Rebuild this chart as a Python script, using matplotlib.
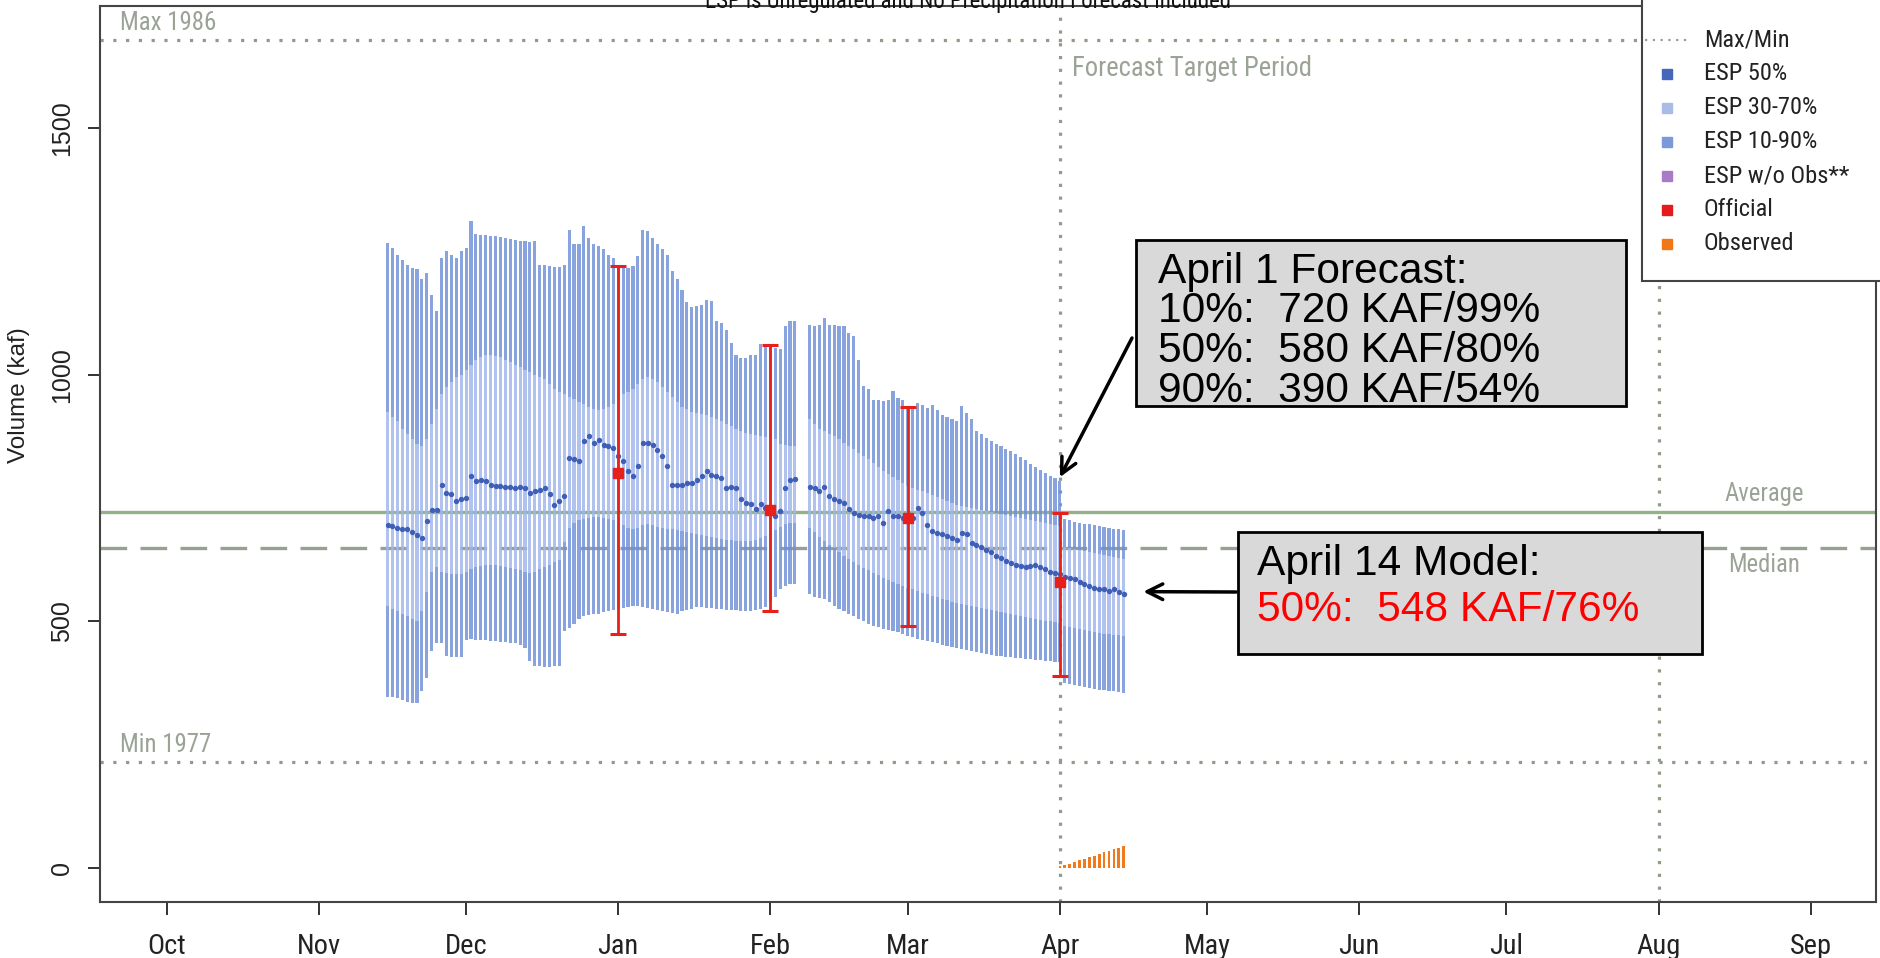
import numpy as np
import pandas as pd
import matplotlib
matplotlib.use('Agg')
import matplotlib.pyplot as plt
from matplotlib import font_manager
from matplotlib.font_manager import FontProperties
from matplotlib.textpath import TextPath
from matplotlib.patches import Rectangle
from matplotlib.lines import Line2D

# ---------------- fonts ----------------
def _find_condensed():
    prefs = ['Liberation Sans Narrow', 'Roboto Condensed', 'DejaVu Sans Condensed',
             'Noto Sans Condensed', 'Open Sans Condensed']
    fl = font_manager.fontManager.ttflist
    for p in prefs:
        for f in fl:
            if f.name == p and f.style == 'normal' and f.weight in (400, 'normal', 'regular', 'book'):
                return f.fname
    for f in fl:
        st = f.stretch
        cond = (isinstance(st, str) and 'condensed' in st and 'ultra' not in st and 'extra' not in st)
        if cond and f.style == 'normal' and f.weight in (400, 'normal', 'regular', 'book'):
            return f.fname
    return None


COND = _find_condensed()


def cond_fp(size):
    if COND:
        return FontProperties(fname=COND, size=size)
    return FontProperties(family='Liberation Sans', size=size)


def arial_fp(size):
    return FontProperties(family='Liberation Sans', size=size)


def fit(text, target_px, maker=cond_fp):
    w = TextPath((0, 0), text, prop=maker(100)).get_extents().width * 100 / 72.0
    return 100.0 * target_px / w


# ---------------- data ----------------
origin = pd.Timestamp('2014-10-01')
month_labels = ['Oct', 'Nov', 'Dec', 'Jan', 'Feb', 'Mar', 'Apr', 'May', 'Jun', 'Jul', 'Aug', 'Sep']
month_starts = pd.date_range('2014-10-01', periods=12, freq='MS')

esp_dates = list(pd.date_range('2014-11-15', '2015-02-06')) + list(pd.date_range('2015-02-09', '2015-04-14'))

# ESP 10% exceedance (upper end of 10-90% range)
esp_hi = [1267, 1257, 1243, 1233, 1223, 1216, 1213, 1193, 1206, 1162,
          1128, 1237, 1250, 1243, 1237, 1250, 1257, 1311, 1284, 1282,
          1282, 1280, 1280, 1278, 1276, 1274, 1272, 1270, 1270, 1268,
          1270, 1223, 1223, 1220, 1218, 1218, 1223, 1294, 1264, 1264,
          1301, 1277, 1264, 1260, 1254, 1243, 1237, 1220, 1216, 1216,
          1220, 1240, 1294, 1291, 1277, 1264, 1254, 1243, 1209, 1193,
          1172, 1147, 1136, 1139, 1142, 1152, 1149, 1108, 1105, 1091,
          1064, 1040, 1034, 1034, 1040, 1040, 1061, 1059, 1058, 1054,
          1051, 1098, 1108, 1108,
          1101, 1098, 1101, 1115, 1101, 1101, 1099, 1098, 1084, 1078,
          1030, 976, 970, 949, 949, 946, 949, 966, 953, 949,
          932, 936, 942, 939, 932, 939, 929, 919, 915, 909,
          905, 936, 922, 909, 885, 880, 872, 866, 860, 855,
          850, 845, 838, 832, 826, 818, 812, 806, 800, 795,
          790, 784, 708, 705, 702, 700, 698, 697, 695, 693,
          692, 690, 688, 686, 684]
# ESP 30% exceedance (upper end of 30-70% range)
esp_q70 = [925, 915, 905, 890, 880, 870, 860, 855, 870, 900,
           930, 960, 975, 985, 995, 1000, 1010, 1020, 1030, 1035,
           1040, 1040, 1038, 1035, 1030, 1025, 1020, 1015, 1010, 1005,
           1000, 995, 990, 980, 970, 965, 960, 955, 950, 945,
           940, 935, 930, 928, 930, 935, 940, 950, 960, 965,
           970, 980, 990, 995, 990, 985, 975, 965, 955, 945,
           935, 930, 925, 922, 920, 918, 915, 910, 905, 900,
           895, 890, 885, 882, 880, 878, 876, 874, 872, 870,
           860, 858, 856, 855,
           910, 900, 890, 885, 880, 875, 870, 862, 855, 850,
           842, 835, 828, 820, 812, 805, 798, 792, 786, 780,
           775, 770, 767, 763, 760, 756, 752, 748, 744, 740,
           736, 734, 732, 730, 728, 726, 724, 722, 720, 718,
           716, 714, 712, 710, 708, 706, 704, 702, 700, 698,
           696, 694, 650, 648, 646, 644, 642, 640, 638, 636,
           634, 632, 630, 628, 626]
# ESP 50% exceedance (median)
esp_med = [696, 693, 690, 686, 686, 680, 674, 669, 703, 726,
           726, 777, 760, 757, 743, 747, 750, 794, 784, 787,
           784, 777, 774, 774, 772, 772, 770, 772, 770, 760,
           764, 767, 770, 757, 736, 743, 753, 831, 828, 824,
           865, 875, 862, 868, 858, 855, 851, 835, 824, 804,
           794, 814, 862, 862, 858, 848, 835, 814, 777, 777,
           777, 780, 781, 787, 794, 804, 797, 794, 790, 770,
           773, 770, 747, 740, 737, 727, 737, 730, 723, 713,
           723, 770, 787, 788,
           773, 770, 763, 773, 753, 748, 743, 740, 727, 720,
           716, 713, 713, 709, 713, 699, 723, 713, 713, 709,
           706, 709, 730, 720, 696, 682, 679, 676, 672, 669,
           665, 679, 676, 659, 655, 650, 645, 640, 632, 628,
           622, 618, 615, 612, 610, 612, 615, 610, 605, 600,
           598, 595, 590, 588, 585, 580, 575, 572, 568, 565,
           565, 562, 565, 560, 555]
# ESP 70% exceedance (lower end of 30-70% range)
esp_q30 = [530, 525, 520, 515, 510, 505, 500, 520, 560, 600,
           610, 600, 598, 596, 595, 595, 600, 605, 610, 612,
           615, 615, 614, 612, 610, 608, 605, 603, 600, 598,
           600, 605, 610, 615, 620, 625, 660, 690, 700, 705,
           708, 710, 712, 712, 710, 708, 705, 700, 695, 690,
           688, 690, 695, 698, 695, 692, 690, 688, 686, 684,
           682, 680, 678, 676, 674, 672, 670, 668, 666, 665,
           664, 663, 662, 662, 663, 665, 668, 672, 678, 685,
           692, 698, 700, 700,
           690, 680, 670, 662, 655, 648, 640, 633, 626, 620,
           614, 608, 603, 598, 593, 588, 584, 580, 576, 572,
           568, 565, 562, 558, 555, 552, 549, 546, 543, 540,
           537, 535, 533, 531, 529, 527, 525, 523, 521, 519,
           517, 515, 513, 511, 509, 507, 505, 503, 501, 500,
           498, 496, 490, 488, 486, 484, 482, 480, 478, 476,
           475, 474, 473, 472, 470]
# ESP 90% exceedance (lower end of 10-90% range)
esp_lo = [347, 346, 344, 340, 337, 335, 334, 358, 385, 440,
          456, 456, 430, 428, 428, 428, 462, 464, 463, 462,
          462, 460, 460, 458, 458, 455, 455, 452, 445, 420,
          410, 409, 408, 408, 410, 410, 480, 486, 495, 505,
          510, 512, 515, 515, 518, 520, 522, 525, 527, 528,
          530, 530, 528, 526, 525, 522, 520, 518, 516, 515,
          520, 522, 525, 528, 528, 527, 526, 525, 524, 523,
          522, 522, 520, 520, 521, 522, 525, 528, 540, 550,
          565, 572, 575, 575,
          555, 550, 548, 545, 540, 530, 525, 520, 515, 510,
          505, 500, 495, 490, 488, 485, 482, 480, 478, 475,
          470, 468, 465, 462, 460, 458, 455, 452, 450, 448,
          446, 444, 442, 440, 438, 436, 434, 432, 430, 430,
          428, 428, 426, 425, 424, 424, 422, 422, 420, 420,
          418, 418, 375, 372, 370, 368, 366, 364, 362, 360,
          360, 358, 358, 356, 355]

official_dates = pd.to_datetime(['2015-01-01', '2015-02-01', '2015-03-01', '2015-04-01'])
official_50 = [800, 725, 710, 580]
official_10 = [1220, 1060, 935, 720]
official_90 = [475, 520, 490, 390]

obs_dates = pd.date_range('2015-04-01', '2015-04-14')
obs_vals = [3, 6, 9, 13, 16, 19, 22, 25, 29, 32, 35, 38, 41, 44]

max_1986 = 1678
min_1977 = 214
avg_vol = 722
med_vol = 648

title = 'ESP is Unregulated and No Precipitation Forecast Included'
legend_labels = ['Max/Min', 'ESP 50%', 'ESP 30-70%', 'ESP 10-90%', 'ESP w/o Obs**', 'Official', 'Observed']
legend_colors = [None, '#4466bb', '#a9bce8', '#7b98d8', '#a77bc8', '#e41a1c', '#f07818']
box1_lines = ['April 1 Forecast:', '10%:  720 KAF/99%', '50%:  580 KAF/80%', '90%:  390 KAF/54%']
box2_lines = ['April 14 Model:', '50%:  548 KAF/76%']

# ---------------- figure ----------------
W, H = 1881, 958
fig = plt.figure(figsize=(W / 100, H / 100), dpi=100)
fig.patch.set_facecolor('white')
ax = fig.add_axes([100 / W, 56 / H, 1776 / W, 896 / H])


def dnum(d):
    return np.array([(pd.Timestamp(v) - origin).days for v in d], dtype=float)


x = dnum(esp_dates)
hi = np.array(esp_hi, float)
q70 = np.array(esp_q70, float)
med = np.array(esp_med, float)
q30 = np.array(esp_q30, float)
lo = np.array(esp_lo, float)

dot = (0, (1, 3))
grey_green = '#8e9c88'

ax.axhline(max_1986, color=grey_green, lw=2.3, ls=dot, zorder=1)
ax.axhline(min_1977, color=grey_green, lw=2.3, ls=dot, zorder=1)
ax.axhline(avg_vol, color='#93b288', lw=2.4, zorder=1)
ax.axhline(med_vol, color='#97a192', lw=2.4, ls=(0, (8, 4)), zorder=1)
ax.axvline((pd.Timestamp('2015-04-01') - origin).days, color=grey_green, lw=2.3, ls=dot, zorder=1)
ax.axvline((pd.Timestamp('2015-08-01') - origin).days, color=grey_green, lw=2.3, ls=dot, zorder=1)

bw = 0.64
outer = '#6f8fd8'
inner = '#9fb5ea'
ax.bar(x, q30 - lo, bottom=lo, width=bw, color=outer, alpha=0.82, linewidth=0, zorder=2)
ax.bar(x, hi - q70, bottom=q70, width=bw, color=outer, alpha=0.82, linewidth=0, zorder=2)
ax.bar(x, q70 - q30, bottom=q30, width=bw, color=inner, alpha=0.82, linewidth=0, zorder=2)
ax.scatter(x, med, s=15, color='#3f5eb6', linewidths=0, zorder=4)

xo = dnum(official_dates)
o50 = np.array(official_50, float)
ax.errorbar(xo, o50, yerr=[o50 - np.array(official_90), np.array(official_10) - o50],
            fmt='s', color='#e8201c', ms=7, capsize=6, elinewidth=2, capthick=2.2, zorder=5)

ax.bar(dnum(obs_dates), obs_vals, width=0.55, color='#f07a1c', linewidth=0, zorder=4)

# limits / ticks
ax.set_xlim(-13.6, 348.3)
ax.set_ylim(-69, 1747)
month_fs = fit('Oct', 32) * 1.12
ax.set_xticks(dnum(month_starts))
ax.set_xticklabels(month_labels, fontproperties=cond_fp(month_fs))
ax.set_yticks([0, 500, 1000, 1500])
ax.set_yticklabels(['0', '500', '1000', '1500'], fontproperties=arial_fp(18),
                   rotation=90, va='center')
ax.tick_params(axis='x', length=9.4, width=1.3, pad=13, colors='#222')
ax.tick_params(axis='y', length=8.6, width=1.3, pad=10, colors='#222')
ax.set_ylabel('Volume (kaf)', fontproperties=arial_fp(17.5), color='#222')
ax.yaxis.set_label_coords(-0.0394, 0.566)
for s in ax.spines.values():
    s.set_color('#444')
    s.set_linewidth(1.5)

# in-plot annotations
gcol = '#9aa396'
fs_mm = fit('Max 1986', 78) * 1.2
ax.text(-9.6, max_1986 + 10, 'Max 1986', ha='left', va='bottom', color=gcol, fontproperties=cond_fp(fs_mm))
ax.text(-9.6, min_1977 + 10, 'Min 1977', ha='left', va='bottom', color=gcol, fontproperties=cond_fp(fs_mm))
ax.text(184.5, 1620, 'Forecast Target Period', ha='left', va='center', color=gcol,
        fontproperties=cond_fp(fit('Forecast Target Period', 230) * 1.03))
fs_am = fit('Average', 72) * 1.08
ax.text(325.5, avg_vol + 12, 'Average', ha='center', va='bottom', color=gcol, fontproperties=cond_fp(fs_am))
ax.text(325.5, med_vol - 10, 'Median', ha='center', va='top', color=gcol, fontproperties=cond_fp(fs_am))

fig.text(968 / W, 1.0 - 1.5 / H, title, ha='center', va='center', color='#111',
         fontproperties=cond_fp(fit(title, 522)))


def fx(px):
    return px / W


def fy(py):
    return 1 - py / H


# legend (drawn R style)
leg_box = Rectangle((fx(1642), fy(281)), fx(1900) - fx(1642), fy(-5) - fy(281),
                    transform=fig.transFigure, facecolor='white', edgecolor='#444',
                    lw=1.5, zorder=10)
fig.add_artist(leg_box)
leg_fs = fit('ESP w/o Obs**', 110) * 1.3
for i, (txt, col) in enumerate(zip(legend_labels, legend_colors)):
    yy = 40 + 34 * i
    if col is None:
        fig.add_artist(Line2D([fx(1645), fx(1690)], [fy(yy), fy(yy)], transform=fig.transFigure,
                              color='#9a9a9a', lw=1.6, ls=(0, (1, 2.5)), zorder=11))
    else:
        fig.add_artist(Line2D([fx(1667)], [fy(yy)], transform=fig.transFigure, marker='s',
                              ms=6.5, color=col, mec=col, ls='none', zorder=11))
    fig.text(fx(1704), fy(yy), txt, ha='left', va='center', color='#222',
             fontproperties=cond_fp(leg_fs), zorder=11)

# forecast boxes
box_fs = fit(box1_lines[1], 378, arial_fp)
box1 = Rectangle((fx(1136), fy(406)), fx(1626) - fx(1136), fy(240) - fy(406),
                 transform=fig.transFigure, facecolor='#d9d9d9', edgecolor='black', lw=2, zorder=12)
fig.add_artist(box1)
for i, line in enumerate(box1_lines):
    fig.text(fx(1158), fy(283 + 39.5 * i), line, ha='left', va='baseline', color='black',
             fontproperties=arial_fp(box_fs), zorder=13)

box2 = Rectangle((fx(1238), fy(654)), fx(1702) - fx(1238), fy(532) - fy(654),
                 transform=fig.transFigure, facecolor='#d9d9d9', edgecolor='black', lw=2, zorder=12)
fig.add_artist(box2)
fig.text(fx(1257), fy(575), box2_lines[0], ha='left', va='baseline', color='black',
         fontproperties=arial_fp(box_fs), zorder=13)
fig.text(fx(1257), fy(621), box2_lines[1], ha='left', va='baseline', color='#ff0000',
         fontproperties=arial_fp(box_fs), zorder=13)

arrow = dict(arrowstyle='->', lw=2.5, color='black', mutation_scale=28, shrinkA=0, shrinkB=0)
ax.annotate('', xy=(182, 792), xycoords='data', xytext=(1132, H - 338),
            textcoords='figure pixels', arrowprops=arrow, zorder=14)
ax.annotate('', xy=(199, 560), xycoords='data', xytext=(1236, H - 592),
            textcoords='figure pixels', arrowprops=arrow, zorder=14)

fig.savefig('out.png', dpi=100, facecolor='white')
